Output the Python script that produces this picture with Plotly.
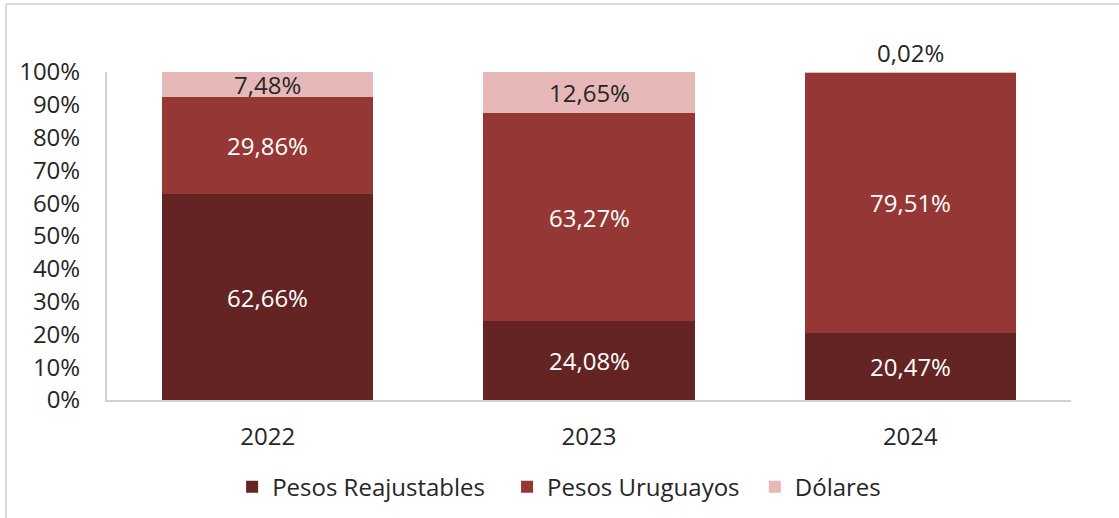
import plotly.graph_objects as go

years = ["2022", "2023", "2024"]
series_names = ["Pesos Reajustables", "Pesos Uruguayos", "Dólares"]
pesos_reajustables = [62.66, 24.08, 20.47]
pesos_uruguayos = [29.86, 63.27, 79.51]
dolares = [7.48, 12.65, 0.02]
y_ticks = [0, 10, 20, 30, 40, 50, 60, 70, 80, 90, 100]

colors = ["#632423", "#953735", "#E6B9B8"]
label_colors = ["#FFFFFF", "#FFFFFF", "#262626"]
FONT = "Open Sans"
FS = 24

series = [pesos_reajustables, pesos_uruguayos, dolares]
legend_ids = ["legend", "legend2", "legend3"]
legend_x = [0.1298, 0.415, 0.672]

fig = go.Figure()
for name, vals, col, lid in zip(series_names, series, colors, legend_ids):
    fig.add_trace(go.Bar(
        x=years, y=vals, name=name, marker=dict(color=col, line=dict(width=0)),
        hoverinfo="skip", legend=lid
    ))

def fmt(v):
    return f"{v:.2f}".replace(".", ",") + "%"

annotations = []
for i, yr in enumerate(years):
    base = 0.0
    for s, vals in enumerate(series):
        v = vals[i]
        mid = base + v / 2
        if v < 1:
            annotations.append(dict(x=i, y=base + v, text=fmt(v), showarrow=False,
                                    yanchor="bottom", yshift=1,
                                    font=dict(family=FONT, size=FS, color="#262626")))
        else:
            annotations.append(dict(x=i, y=mid, text=fmt(v), showarrow=False,
                                    font=dict(family=FONT, size=FS, color=label_colors[s])))
        base += v

def legend_cfg(x):
    return dict(orientation="h", x=x, xanchor="left", y=-0.197, yanchor="top",
                font=dict(family=FONT, size=FS, color="#262626"),
                itemclick=False, itemdoubleclick=False, itemwidth=30,
                bgcolor="rgba(0,0,0,0)")

fig.update_layout(
    barmode="stack",
    bargap=0.343,
    width=1119, height=518,
    margin=dict(l=107, r=48, t=72, b=118, autoexpand=False),
    paper_bgcolor="white", plot_bgcolor="white",
    font=dict(family=FONT, size=FS, color="#262626"),
    annotations=annotations,
    showlegend=True,
    hovermode=False,
    legend=legend_cfg(legend_x[0]),
    legend2=legend_cfg(legend_x[1]),
    legend3=legend_cfg(legend_x[2]),
    shapes=[
        dict(type="line", xref="paper", yref="paper", x0=-0.1048, x1=1.06, y0=1.207, y1=1.207,
             line=dict(color="#D9D9D9", width=2)),
        dict(type="line", xref="paper", yref="paper", x0=-0.1048, x1=-0.1048, y0=1.207, y1=-0.4,
             line=dict(color="#D9D9D9", width=2)),
    ],
)
fig.update_xaxes(type="category", range=[-0.5, 2.5], showline=True, linecolor="#D0D0D0", linewidth=2,
                 ticks="", tickfont=dict(family=FONT, size=FS, color="#262626"), ticklabelstandoff=14)
fig.update_yaxes(range=[0, 100], tickvals=y_ticks, ticktext=[f"{t}%" for t in y_ticks],
                 showgrid=False, zeroline=False, showline=True, linecolor="#D0D0D0", linewidth=2,
                 ticks="", tickfont=dict(family=FONT, size=FS, color="#262626"), ticklabelstandoff=20)

fig.write_html("out.html", config={"displayModeBar": False},
               post_script="document.body.style.margin='0';document.body.style.overflow='hidden';")
